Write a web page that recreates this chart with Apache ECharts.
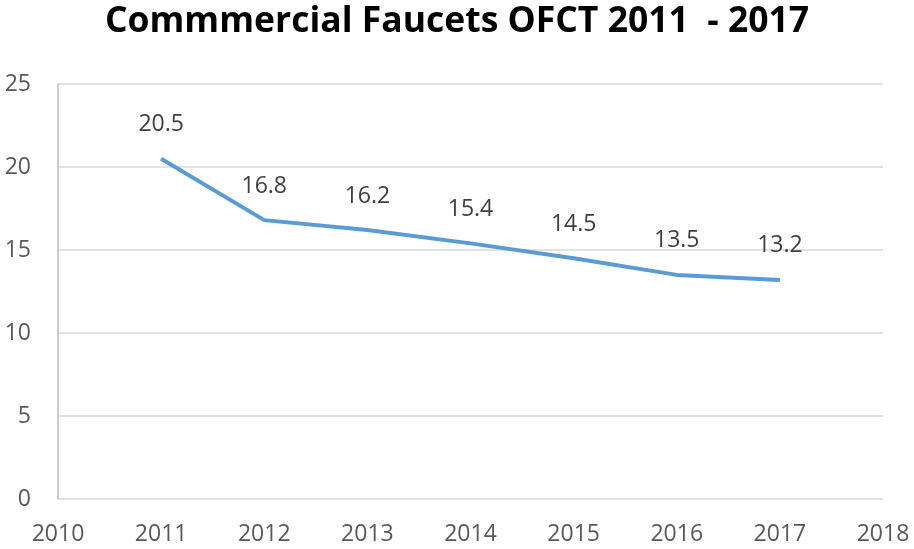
<!DOCTYPE html>
<html><head><meta charset="utf-8">
<script src="https://cdn.jsdelivr.net/npm/echarts@6/dist/echarts.min.js"></script>
<style>html,body{margin:0;padding:0;background:#fff}#c{width:914px;height:549px}</style>
</head><body><div id="c"></div>
<script>
const titleText = 'Commmercial Faucets OFCT 2011  - 2017';
const years = [2011, 2012, 2013, 2014, 2015, 2016, 2017];
const values = [20.5, 16.8, 16.2, 15.4, 14.5, 13.5, 13.2];
const yTicks = [0, 5, 10, 15, 20, 25];
const xRange = [2010, 2018];

const chart = echarts.init(document.getElementById('c'));
chart.setOption({
  animation: false,
  title: {
    text: titleText, left: 'center', top: -1,
    textStyle: { fontFamily: 'Open Sans', fontWeight: 'bold', fontSize: 35.5, color: '#000' }
  },
  grid: { left: 58, right: 31, top: 84, bottom: 50 },
  xAxis: {
    type: 'value', min: xRange[0], max: xRange[1], interval: 1,
    axisLine: { show: false }, axisTick: { show: false }, splitLine: { show: false },
    axisLabel: { formatter: v => String(v), fontFamily: 'Open Sans', fontSize: 23, color: '#595959', margin: 24 }
  },
  yAxis: {
    type: 'value', min: yTicks[0], max: yTicks[yTicks.length - 1], interval: 5,
    axisLine: { show: true, lineStyle: { color: '#bfbfbf', width: 1.5 } },
    axisTick: { show: false },
    splitLine: { show: true, lineStyle: { color: '#d9d9d9', width: 1.5 } },
    axisLabel: { fontFamily: 'Open Sans', fontSize: 23, color: '#595959', margin: 27 }
  },
  series: [{
    type: 'line',
    data: years.map((y, i) => [y, values[i]]),
    symbol: 'circle', symbolSize: 1, showSymbol: true,
    lineStyle: { color: '#5b9bd5', width: 4 },
    itemStyle: { color: '#5b9bd5' },
    label: { show: true, position: 'top', distance: 22, fontFamily: 'Open Sans', fontSize: 23, color: '#404040',
      formatter: p => p.value[1].toFixed(1) }
  }]
});
</script></body></html>
